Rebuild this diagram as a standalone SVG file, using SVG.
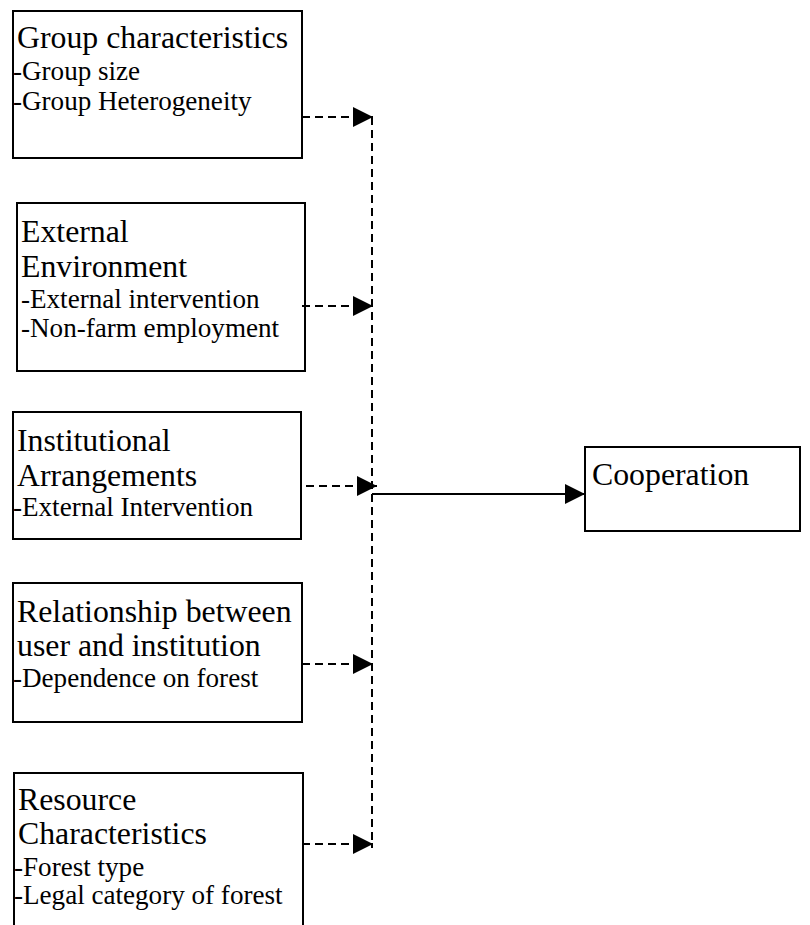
<svg xmlns="http://www.w3.org/2000/svg" width="810" height="925" viewBox="0 0 810 925">
<style>
.box{fill:#fff;stroke:#000;stroke-width:2}
.t{font-family:"Liberation Serif","Times New Roman",serif;font-size:31.8px;fill:#000}
.s{font-family:"Liberation Serif","Times New Roman",serif;font-size:27.1px;fill:#000}
.d{stroke:#000;stroke-width:2;fill:none;stroke-dasharray:8,5}
.l{stroke:#000;stroke-width:2;fill:none}
</style>
<defs>
<marker id="ah" markerUnits="userSpaceOnUse" markerWidth="20" markerHeight="20" refX="20" refY="10" orient="auto" viewBox="0 0 20 20">
<path d="M0,0 L20,10 L0,20 Z" fill="#000"/>
</marker>
</defs>
<rect width="810" height="925" fill="#fff"/>
<g id="n1">
<rect class="box" x="13" y="11" width="289" height="147"/>
<text class="t" x="17" y="48">Group characteristics</text>
<text class="s" x="13" y="80">-Group size</text>
<text class="s" x="13" y="110">-Group Heterogeneity</text>
</g>
<g id="n2">
<rect class="box" x="17" y="203" width="288" height="168"/>
<text class="t" x="21" y="242">External</text>
<text class="t" x="21" y="277">Environment</text>
<text class="s" x="21" y="308">-External intervention</text>
<text class="s" x="21" y="337">-Non-farm employment</text>
</g>
<g id="n3">
<rect class="box" x="13" y="412" width="288" height="127"/>
<text class="t" x="17" y="451">Institutional</text>
<text class="t" x="17" y="486">Arrangements</text>
<text class="s" x="13" y="516">-External Intervention</text>
</g>
<g id="n4">
<rect class="box" x="13" y="583" width="289" height="139"/>
<text class="t" x="17" y="622">Relationship between</text>
<text class="t" x="17" y="656">user and institution</text>
<text class="s" x="13" y="687">-Dependence on forest</text>
</g>
<g id="n5">
<rect class="box" x="14" y="773" width="289" height="170"/>
<text class="t" x="18" y="810">Resource</text>
<text class="t" x="18" y="844">Characteristics</text>
<text class="s" x="14" y="876">-Forest type</text>
<text class="s" x="14" y="904">-Legal category of forest</text>
</g>
<g id="n6">
<rect class="box" x="585" y="447" width="215" height="84"/>
<text class="t" x="592" y="485">Cooperation</text>
</g>
<g id="connectors">
<line class="d" x1="372" y1="117" x2="372" y2="848"/>
<line class="d" x1="302" y1="117" x2="373" y2="117" marker-end="url(#ah)"/>
<line class="d" x1="302" y1="306" x2="373" y2="306" marker-end="url(#ah)"/>
<line class="d" x1="306" y1="486" x2="377" y2="486" marker-end="url(#ah)"/>
<line class="d" x1="302" y1="664" x2="373" y2="664" marker-end="url(#ah)"/>
<line class="d" x1="302" y1="844" x2="373" y2="844" marker-end="url(#ah)"/>
<line class="l" x1="372" y1="494" x2="585" y2="494" marker-end="url(#ah)"/>
</g>
</svg>
